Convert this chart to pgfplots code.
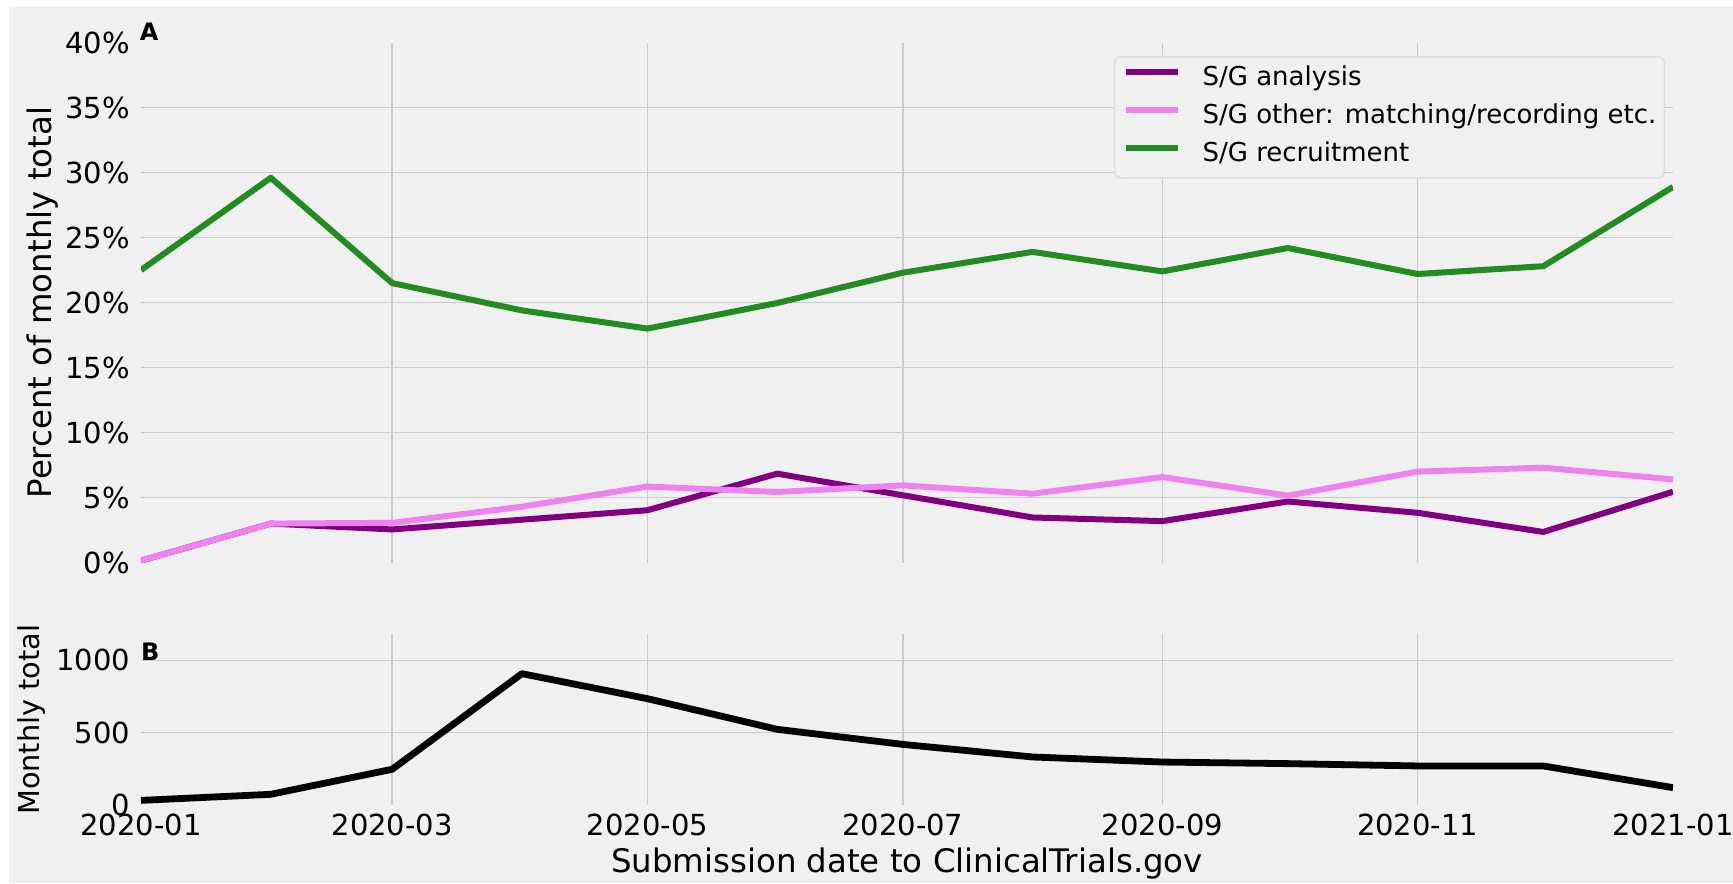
\documentclass[border=0pt]{standalone}
\usepackage{pgfplots}
\usepackage{pgfplotstable}
\pgfplotsset{compat=1.18}
\usepackage{fontspec}
\setmainfont{DejaVu Sans}
\definecolor{bgc}{HTML}{F0F0F0}
\definecolor{gridc}{HTML}{CBCBCB}
\definecolor{cana}{HTML}{800080}
\definecolor{coth}{HTML}{EE82EE}
\definecolor{crec}{HTML}{228B22}
\definecolor{legedge}{HTML}{E0E0E0}
\pgfplotstableread{
d ana oth rec tot
0 0.15 0.15 22.5 32
31 3.0 3.0 29.6 74
60 2.55 3.06 21.5 247
91 3.3 4.3 19.4 908
121 4.03 5.85 18.0 735
152 6.84 5.43 19.97 523
182 5.18 5.94 22.3 419
213 3.47 5.3 23.9 332
244 3.19 6.58 22.4 297
274 4.7 5.15 24.2 286
305 3.83 7.0 22.2 270
335 2.36 7.3 22.8 270
366 5.45 6.4 28.9 120
}\datatable
\begin{document}
\begin{tikzpicture}
\useasboundingbox (0pt,0pt) rectangle (866.5pt,-441.5pt);
\fill[bgc] (4.65pt,-3.5pt) rectangle (866.5pt,-441.5pt);
\pgfplotsset{
 mystyle/.style={
   scale only axis, width=766pt, xmin=0, xmax=366,
   axis line style={draw=none}, tick style={draw=none},
   grid=major, major grid style={gridc, line width=0.75pt},
   xtick={60,121,182,244,305},
   ticklabel style={font=\fontsize{14.5}{17}\selectfont},
   yticklabel style={anchor=east, inner sep=0pt, xshift=-5.3pt},
   extra x tick style={grid=none}, extra y tick style={grid=none},
   every axis plot/.append style={line join=round},
 }
}
\begin{axis}[mystyle, at={(70.5pt,-21.3pt)}, anchor=north west, height=260pt,
  ymin=0, ymax=40,
  ytick={5,10,15,20,25,30,35},
  yticklabels={5\%,10\%,15\%,20\%,25\%,30\%,35\%},
  extra y ticks={0,40}, extra y tick labels={0\%,40\%},
  xticklabels={},
  ylabel={Percent of monthly total},
  ylabel style={at={(axis description cs:-0.0643,0.5)}, anchor=center, font=\fontsize{16.2}{19}\selectfont},
  legend style={at={(0.635,0.974)}, anchor=north west, draw=legedge, fill=bgc,
    line width=0.8pt, rounded corners=3pt, inner xsep=4pt, inner ysep=5pt,
    font=\fontsize{13}{15.6}\selectfont, row sep=6.5pt, column sep=11pt,
    nodes={inner sep=0pt, text height=9.5pt, text depth=3pt}},
  legend cell align=left,
  legend image code/.code={\draw[#1, line width=3pt] (0pt,3.5pt) -- (26pt,3.5pt);},
]
\addplot[cana, line width=3pt] table[x=d, y=ana] {\datatable};
\addlegendentry{S/G analysis}
\addplot[coth, line width=3pt] table[x=d, y=oth] {\datatable};
\addlegendentry{S/G other: matching/recording etc.}
\addplot[crec, line width=3pt] table[x=d, y=rec] {\datatable};
\addlegendentry{S/G recruitment}
\end{axis}
\begin{axis}[mystyle, at={(70.5pt,-317.15pt)}, anchor=north west, height=85.35pt,
  ymin=0, ymax=1180,
  ytick={500,1000}, yticklabels={500,1000},
  extra y ticks={0}, extra y tick labels={0},
  xticklabels={2020-03,2020-05,2020-07,2020-09,2020-11},
  extra x ticks={0,366}, extra x tick labels={2020-01,2021-01},
  xticklabel style={anchor=base, yshift=-15pt},
  ylabel={Monthly total},
  ylabel style={at={(axis description cs:-0.0714,0.5)}, anchor=center, font=\fontsize{14.4}{17}\selectfont},
  xlabel={Submission date to ClinicalTrials.gov},
  xlabel style={at={(axis description cs:0.5,-0.398)}, anchor=base, font=\fontsize{16.2}{19}\selectfont},
]
\addplot[black, line width=3.4pt] table[x=d, y=tot] {\datatable};
\end{axis}
\node[anchor=base west, inner sep=0pt, font=\bfseries\fontsize{12}{14}\selectfont] at (69.7pt,-20.5pt) {A};
\node[anchor=base west, inner sep=0pt, font=\bfseries\fontsize{12}{14}\selectfont] at (70.3pt,-330pt) {B};
\end{tikzpicture}
\end{document}
